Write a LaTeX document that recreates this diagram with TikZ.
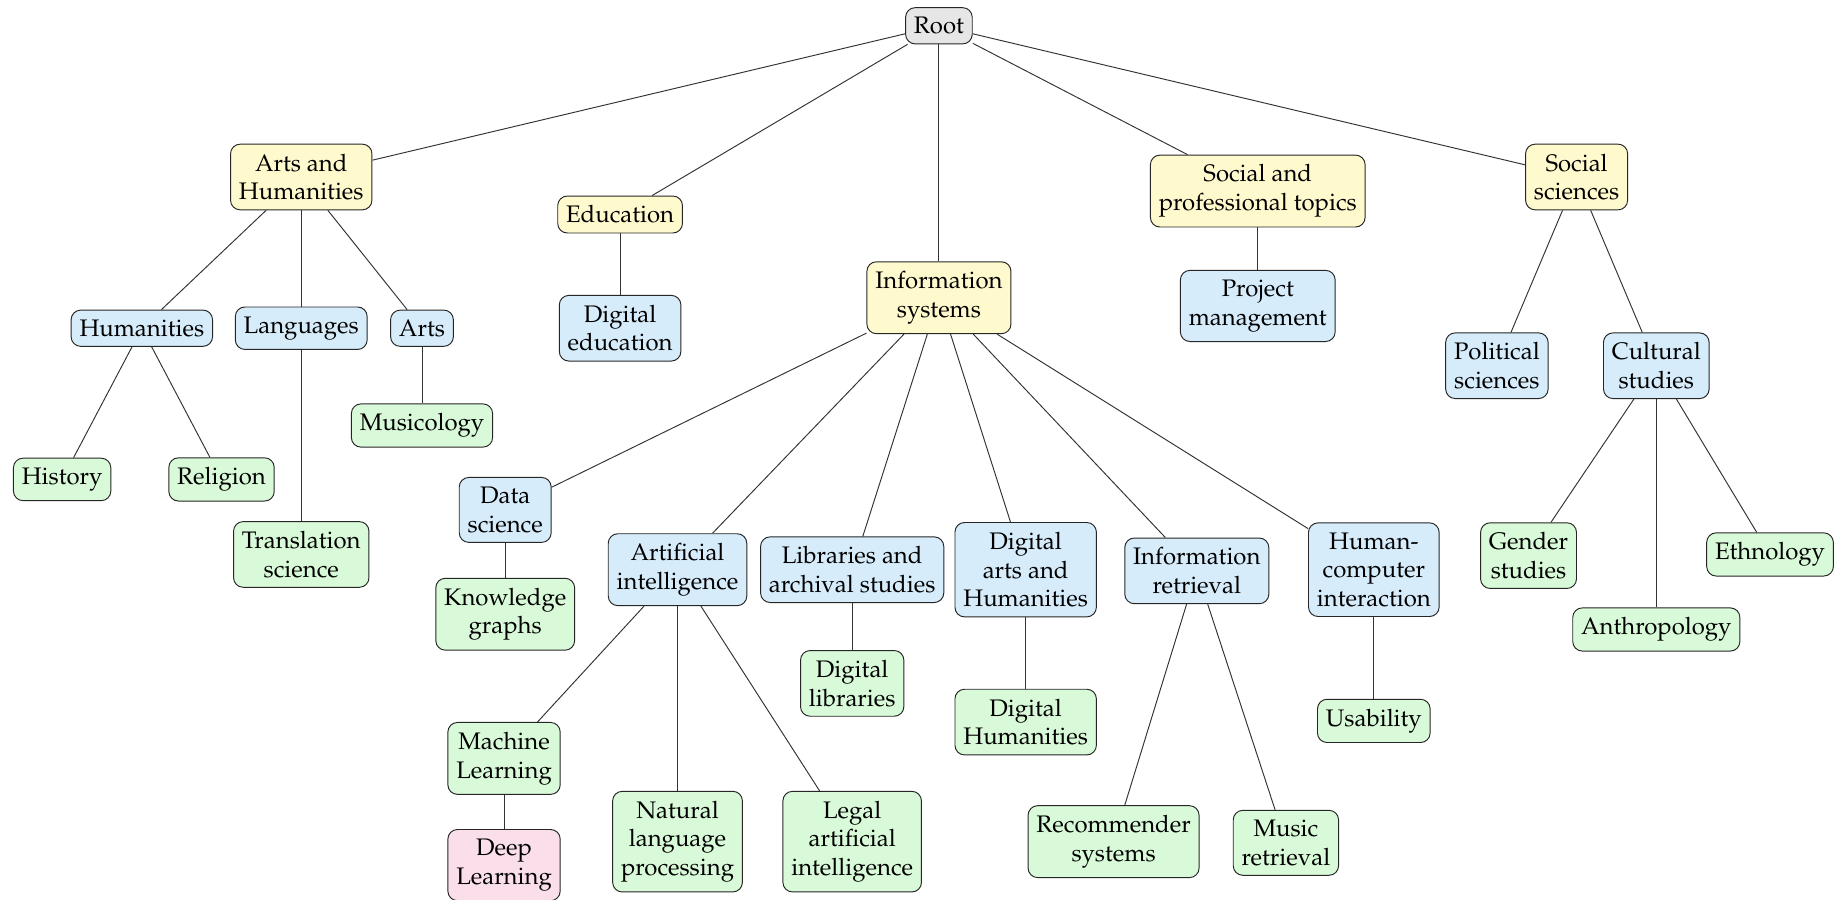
\documentclass[tikz,border=0pt]{standalone}
\usepackage[T1]{fontenc}
\usepackage{mathpazo}
\usepackage{xcolor}
\usepackage{tikz}

\definecolor{rootgray}{RGB}{230,230,230}
\definecolor{topyellow}{RGB}{255,250,205}
\definecolor{midblue}{RGB}{214,236,250}
\definecolor{leafgreen}{RGB}{217,250,217}
\definecolor{deeppink}{RGB}{250,222,234}

\tikzset{
	box/.style = {draw = black!85, rounded corners = 4pt, align = center, inner xsep = 3.5pt, inner ysep = 4pt, font = \normalsize},
	rootbox/.style = {box, fill = rootgray},
	topbox/.style = {box, fill = topyellow},
	midbox/.style = {box, fill = midblue},
	leafbox/.style = {box, fill = leafgreen},
	deepbox/.style = {box, fill = deeppink},
	edge/.style = {black!80, thin}
}

\begin{document}
\begin{tikzpicture}[x = 0.49pt, y = -0.49pt]
		\useasboundingbox (0,0) rectangle (1568,767);

		%root
		\node [rootbox] (root) at (801,22) {Root};

		%first level
		\node [topbox] (arts) at (257,151) {Arts and\\Humanities};
		\node [topbox] (edu) at (529,183) {Education};
		\node [topbox] (infosys) at (801,254) {Information\\systems};
		\node [topbox] (socprof) at (1073,163) {Social and\\professional topics};
		\node [topbox] (socsci) at (1345,151) {Social\\sciences};

		%arts and humanities
		\node [midbox] (human) at (121,280) {Humanities};
		\node [midbox] (lang) at (257,280) {Languages};
		\node [midbox] (artsub) at (360,280) {Arts};
		\node [leafbox] (history) at (53,409) {History};
		\node [leafbox] (religion) at (189,409) {Religion};
		\node [leafbox] (transl) at (257,473) {Translation\\science};
		\node [leafbox] (musico) at (360,363) {Musicology};

		%education
		\node [midbox] (digedu) at (529,280) {Digital\\education};

		%information systems
		\node [midbox] (datasci) at (431,435) {Data\\science};
		\node [midbox] (ai) at (578,486) {Artificial\\intelligence};
		\node [midbox] (libs) at (727,486) {Libraries and\\archival studies};
		\node [midbox] (digarts) at (875,486) {Digital\\arts and\\Humanities};
		\node [midbox] (inforet) at (1021,487) {Information\\retrieval};
		\node [midbox] (hci) at (1172,486) {Human-\\computer\\interaction};

		\node [leafbox] (kg) at (431,524) {Knowledge\\graphs};
		\node [leafbox] (ml) at (430,647) {Machine\\Learning};
		\node [deepbox] (dl) at (430,738) {Deep\\Learning};
		\node [leafbox] (nlp) at (578,718) {Natural\\language\\processing};
		\node [leafbox] (legal) at (727,718) {Legal\\artificial\\intelligence};
		\node [leafbox] (diglib) at (727,583) {Digital\\libraries};
		\node [leafbox] (dighum) at (875,616) {Digital\\Humanities};
		\node [leafbox] (recsys) at (950,718) {Recommender\\systems};
		\node [leafbox] (musret) at (1097,719) {Music\\retrieval};
		\node [leafbox] (usab) at (1172,615) {Usability};

		%social
		\node [midbox] (projman) at (1073,261) {Project\\management};
		\node [midbox] (polsci) at (1277,312) {Political\\sciences};
		\node [midbox] (cultural) at (1413,312) {Cultural\\studies};
		\node [leafbox] (gender) at (1304,474) {Gender\\studies};
		\node [leafbox] (anthro) at (1413,537) {Anthropology};
		\node [leafbox] (ethno) at (1510,473) {Ethnology};

		%edges
		\foreach \a/\b in {root/arts, root/edu, root/infosys, root/socprof, root/socsci,
			arts/human, arts/lang, arts/artsub, human/history, human/religion, lang/transl, artsub/musico,
			edu/digedu,
			infosys/datasci, infosys/ai, infosys/libs, infosys/digarts, infosys/inforet, infosys/hci,
			datasci/kg, ai/ml, ml/dl, ai/nlp, ai/legal, libs/diglib, digarts/dighum,
			inforet/recsys, inforet/musret, hci/usab,
			socprof/projman, socsci/polsci, socsci/cultural,
			cultural/gender, cultural/anthro, cultural/ethno}
			\draw [edge] (\a) -- (\b);
	\end{tikzpicture}
\end{document}
